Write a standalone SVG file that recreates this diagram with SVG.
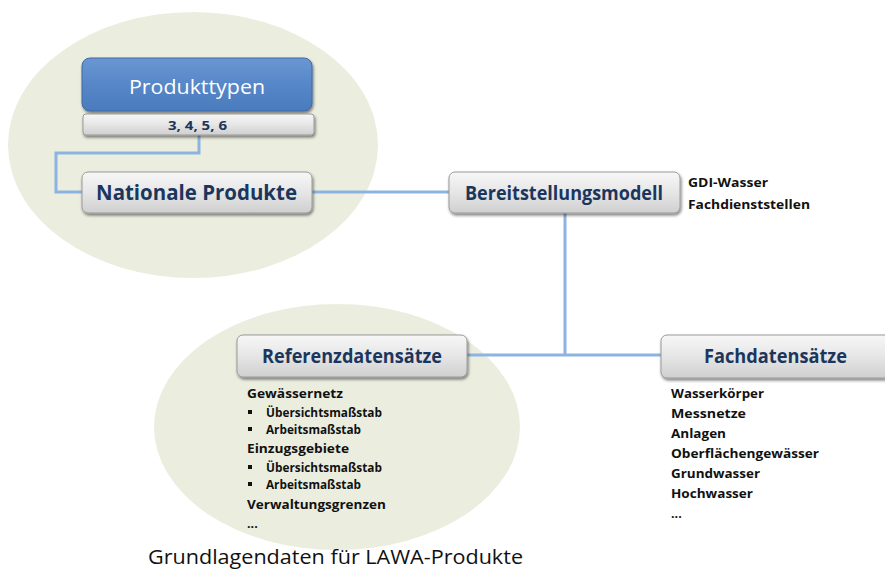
<svg xmlns="http://www.w3.org/2000/svg" width="885" height="569" viewBox="0 0 885 569">
<defs>
<linearGradient id="gray" x1="0" y1="0" x2="0" y2="1">
<stop offset="0" stop-color="#f7f7f7"/>
<stop offset="0.5" stop-color="#e6e6e6"/>
<stop offset="1" stop-color="#cfcfcf"/>
</linearGradient>
<linearGradient id="blue" x1="0" y1="0" x2="0" y2="1">
<stop offset="0" stop-color="#6a97d3"/>
<stop offset="0.5" stop-color="#5687c8"/>
<stop offset="1" stop-color="#4a7bbd"/>
</linearGradient>
<filter id="sh" x="-10%" y="-20%" width="120%" height="150%">
<feGaussianBlur in="SourceAlpha" stdDeviation="1.5"/>
<feOffset dx="1" dy="2" result="b"/>
<feComponentTransfer><feFuncA type="linear" slope="0.5"/></feComponentTransfer>
<feMerge><feMergeNode/><feMergeNode in="SourceGraphic"/></feMerge>
</filter>
</defs>
<style>
.ell{fill:#ebeedf}
.box{fill:url(#gray);stroke:#9a9a9a;stroke-width:1;filter:url(#sh)}
.lbl{font-family:"Open Sans","Liberation Sans",sans-serif;font-weight:bold;fill:#1b365d}
.txt{font-family:"Open Sans","Liberation Sans",sans-serif;font-weight:bold;fill:#111;font-size:12.5px}
.con{fill:none;stroke:#8db3e2;stroke-width:3}
</style>
<rect width="885" height="569" fill="#fff"/>
<ellipse class="ell" cx="193" cy="145" rx="185" ry="133"/>
<ellipse class="ell" cx="337" cy="427" rx="183" ry="123"/>
<g id="connectors">
<path class="con" d="M199 135 V153 H56 V192 H82"/>
<path class="con" d="M312 192 H450"/>
<path class="con" d="M565 213 V355"/>
<path class="con" d="M467 355 H662"/>
</g>
<g id="produkttypen">
<rect x="82" y="58" width="230" height="53" rx="8" fill="url(#blue)" stroke="#3d6aa6" stroke-width="1" filter="url(#sh)"/>
<text x="197" y="94" text-anchor="middle" font-family="Open Sans, Liberation Sans, sans-serif" font-size="20" fill="#fff" textLength="136" lengthAdjust="spacingAndGlyphs">Produkttypen</text>
<rect class="box" x="83" y="114" width="231" height="21" rx="3"/>
<text class="lbl" x="197.5" y="130" text-anchor="middle" font-size="12" textLength="59" lengthAdjust="spacingAndGlyphs">3, 4, 5, 6</text>
</g>
<g id="nationale">
<rect class="box" x="82" y="172" width="230" height="41" rx="6"/>
<text class="lbl" x="196.5" y="200" text-anchor="middle" font-size="21" textLength="201" lengthAdjust="spacingAndGlyphs">Nationale Produkte</text>
</g>
<g id="bereitstellung">
<rect class="box" x="449" y="172" width="231" height="41" rx="6"/>
<text class="lbl" x="564" y="200" text-anchor="middle" font-size="19" textLength="198" lengthAdjust="spacingAndGlyphs">Bereitstellungsmodell</text>
<text class="txt" x="688" y="187" font-size="13" textLength="80" lengthAdjust="spacingAndGlyphs">GDI-Wasser</text>
<text class="txt" x="688" y="209" font-size="13" textLength="122" lengthAdjust="spacingAndGlyphs">Fachdienststellen</text>
</g>
<g id="referenz">
<rect class="box" x="237" y="335" width="230" height="42" rx="6"/>
<text class="lbl" x="352" y="363" text-anchor="middle" font-size="19" textLength="180" lengthAdjust="spacingAndGlyphs">Referenzdatensätze</text>
<text class="txt" x="247" y="398" textLength="96" lengthAdjust="spacingAndGlyphs">Gewässernetz</text>
<rect x="248" y="410" width="4" height="4" fill="#111"/>
<text class="txt" x="266" y="417" font-size="12" textLength="116" lengthAdjust="spacingAndGlyphs">Übersichtsmaßstab</text>
<rect x="248" y="427" width="4" height="4" fill="#111"/>
<text class="txt" x="266" y="434" font-size="12" textLength="95" lengthAdjust="spacingAndGlyphs">Arbeitsmaßstab</text>
<text class="txt" x="247" y="453" textLength="102" lengthAdjust="spacingAndGlyphs">Einzugsgebiete</text>
<rect x="248" y="465" width="4" height="4" fill="#111"/>
<text class="txt" x="266" y="472" font-size="12" textLength="116" lengthAdjust="spacingAndGlyphs">Übersichtsmaßstab</text>
<rect x="248" y="482" width="4" height="4" fill="#111"/>
<text class="txt" x="266" y="489" font-size="12" textLength="95" lengthAdjust="spacingAndGlyphs">Arbeitsmaßstab</text>
<text class="txt" x="247" y="509" textLength="139" lengthAdjust="spacingAndGlyphs">Verwaltungsgrenzen</text>
<text class="txt" x="247" y="528">...</text>
</g>
<g id="fachdaten">
<rect class="box" x="661" y="335" width="240" height="43" rx="6"/>
<text class="lbl" x="775.5" y="363" text-anchor="middle" font-size="19" textLength="143" lengthAdjust="spacingAndGlyphs">Fachdatensätze</text>
<text class="txt" x="671" y="398" textLength="93" lengthAdjust="spacingAndGlyphs">Wasserkörper</text>
<text class="txt" x="671" y="418" textLength="75" lengthAdjust="spacingAndGlyphs">Messnetze</text>
<text class="txt" x="671" y="438" textLength="55" lengthAdjust="spacingAndGlyphs">Anlagen</text>
<text class="txt" x="671" y="458" textLength="148" lengthAdjust="spacingAndGlyphs">Oberflächengewässer</text>
<text class="txt" x="671" y="478" textLength="89" lengthAdjust="spacingAndGlyphs">Grundwasser</text>
<text class="txt" x="671" y="498" textLength="82" lengthAdjust="spacingAndGlyphs">Hochwasser</text>
<text class="txt" x="671" y="518">...</text>
</g>
<text x="148" y="564" font-family="Open Sans, Liberation Sans, sans-serif" font-size="20" fill="#111" textLength="375" lengthAdjust="spacingAndGlyphs">Grundlagendaten für LAWA-Produkte</text>
</svg>
